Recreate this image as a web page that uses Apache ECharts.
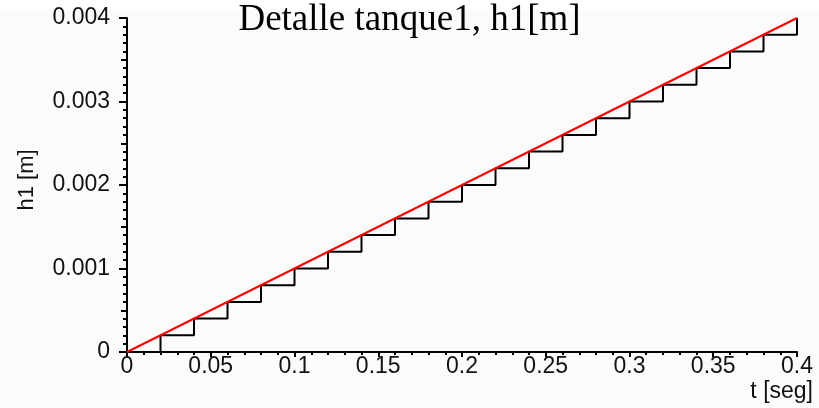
<!DOCTYPE html>
<html>
<head>
<meta charset="UTF-8">
<title>Detalle tanque1</title>
<script src="https://cdn.jsdelivr.net/npm/echarts@6/dist/echarts.min.js"></script>
<style>
  html, body { margin: 0; padding: 0; background: #fafbfa; }
  #main { width: 819px; height: 408px; }
</style>
</head>
<body>
<div id="main"></div>
<script>
// tiempo [seg] y nivel h1 [m]
var tRecta = [0, 0.4];
var hRecta = [0, 0.004];
var tEsc = [0, 0.02, 0.04, 0.06, 0.08, 0.1, 0.12, 0.14, 0.16, 0.18, 0.2,
            0.22, 0.24, 0.26, 0.28, 0.3, 0.32, 0.34, 0.36, 0.38, 0.4];
var hEsc = [0, 0.0002, 0.0004, 0.0006, 0.0008, 0.001, 0.0012, 0.0014, 0.0016, 0.0018, 0.002,
            0.0022, 0.0024, 0.0026, 0.0028, 0.003, 0.0032, 0.0034, 0.0036, 0.0038, 0.004];
var xTicks = ['0', '0.05', '0.1', '0.15', '0.2', '0.25', '0.3', '0.35', '0.4'];
var yTicks = ['0', '0.001', '0.002', '0.003', '0.004'];

var myChart = echarts.init(document.getElementById('main'));
var fuente = 'Liberation Sans';

myChart.setOption({
    animation: false,
    backgroundColor: '#fafbfa',
    graphic: [{ type: 'rect', shape: { x: 0, y: 0, width: 819, height: 10 }, style: { fill: '#fff' }, z: -1, silent: true }],
    title: {
        text: 'Detalle tanque1, h1[m]',
        left: 'center', top: -3,
        textStyle: { fontFamily: 'Liberation Serif', fontWeight: 'normal', fontSize: 37, color: '#000' }
    },
    grid: { left: 127, right: 22, top: 18, bottom: 56 },
    xAxis: {
        type: 'value', min: 0, max: 0.4, interval: 0.05,
        name: 't [seg]', nameLocation: 'end', nameGap: 16,
        nameTextStyle: { color: '#111', fontFamily: fuente, fontSize: 23, align: 'right', verticalAlign: 'top', padding: [28, 0, 0, 0] },
        axisLine: { onZero: false, lineStyle: { color: '#000', width: 2 } },
        axisTick: { length: 5, lineStyle: { color: '#000', width: 2 } },
        minorTick: { show: true, splitNumber: 5, length: 3, lineStyle: { color: '#000', width: 2 } },
        axisLabel: { margin: 3, color: '#111', fontFamily: fuente, fontSize: 23, formatter: function (v) {
            return xTicks[Math.round(v / 0.05)] || '';
        } },
        splitLine: { show: false }
    },
    yAxis: [{
        type: 'value', min: 0, max: 0.004, interval: 0.001,
        name: 'h1 [m]', nameLocation: 'middle', nameGap: 89, nameRotate: 90,
        nameTextStyle: { color: '#111', fontFamily: fuente, fontSize: 22, padding: [0, 0, 0, 10] },
        axisLine: { onZero: false, lineStyle: { color: '#000', width: 2 } },
        axisTick: { length: 8, lineStyle: { color: '#000', width: 2 } },
        minorTick: { show: true, splitNumber: 10, length: 4, lineStyle: { color: '#000', width: 2 } },
        axisLabel: { margin: 17, color: '#111', fontFamily: fuente, fontSize: 23, formatter: function (v) {
            return yTicks[Math.round(v / 0.001)] || '';
        } },
        splitLine: { show: false }
    }, {
        // marcas intermedias cada 0.0005
        type: 'value', min: 0, max: 0.004, interval: 0.0005, position: 'left',
        axisLine: { show: false }, axisLabel: { show: false }, splitLine: { show: false },
        axisTick: { length: 6, lineStyle: { color: '#000', width: 2 } }
    }],
    series: [{
        type: 'line', step: 'end', symbol: 'none',
        data: tEsc.map(function (t, i) { return [t, hEsc[i]]; }),
        lineStyle: { color: '#000', width: 2 }
    }, {
        type: 'line', symbol: 'none',
        data: tRecta.map(function (t, i) { return [t, hRecta[i]]; }),
        lineStyle: { color: '#ff0000', width: 2 }
    }]
});
</script>
</body>
</html>
